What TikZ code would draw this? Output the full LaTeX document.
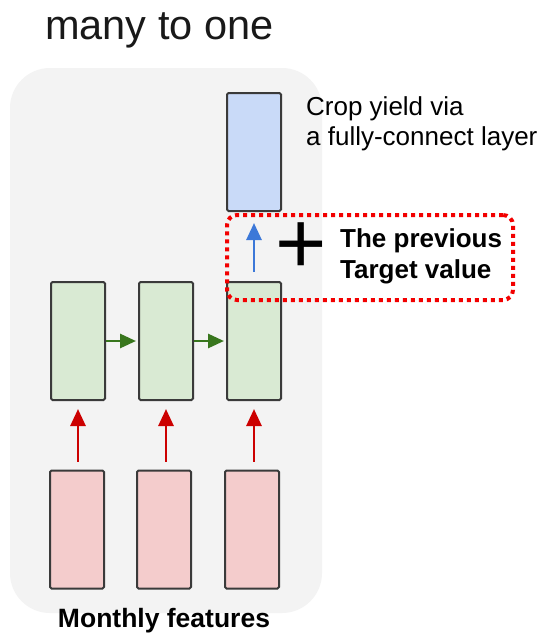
\documentclass[tikz,border=0pt]{standalone}
\usepackage{fontspec}
\setmainfont{Liberation Sans}
\usetikzlibrary{arrows.meta}
\definecolor{panelgray}{HTML}{F3F3F3}
\definecolor{boxline}{HTML}{3A3A3A}
\definecolor{greenfill}{HTML}{D9EAD3}
\definecolor{bluefill}{HTML}{C9DAF8}
\definecolor{pinkfill}{HTML}{F4CCCC}
\definecolor{greenarrow}{HTML}{38761D}
\definecolor{redarrow}{HTML}{CC0000}
\definecolor{bluearrow}{HTML}{3C78D8}
\definecolor{dotred}{HTML}{F20000}
\begin{document}
\begin{tikzpicture}[x=1pt, y=-1pt,
  cell/.style={draw=boxline, line width=2pt, rounded corners=1.5pt,
    minimum width=54pt, minimum height=118pt, inner sep=0pt},
  hidden/.style={cell, fill=greenfill},
  outcell/.style={cell, fill=bluefill},
  incell/.style={cell, fill=pinkfill},
  inarrow/.style={draw=redarrow, line width=2.8pt,
    -{Triangle[length=17pt, width=15pt]}, shorten <=8pt, shorten >=8pt},
  recarrow/.style={draw=greenarrow, line width=2.8pt,
    -{Triangle[length=16pt, width=14pt]}, shorten <=0pt, shorten >=2pt},
  outarrow/.style={draw=bluearrow, line width=2.8pt,
    -{Triangle[length=17pt, width=15pt]}, shorten <=9pt, shorten >=11pt},
  dotbox/.style={draw=dotred, line width=4pt, dash pattern=on 4pt off 4pt,
    rounded corners=10pt, minimum width=286pt, minimum height=85pt, inner sep=0pt},
  txt/.style={inner sep=0pt, anchor=base west, align=left}
]
\useasboundingbox[fill=white] (0,0) rectangle (547,633);

% grey panel behind the network
\fill[panelgray, rounded corners=40pt] (10,68) rectangle (322,613);

% title
\node[txt, font=\fontsize{41.5}{48}\selectfont, text=black!90] (title) at (45,39) {many to one};

% cells
\node[outcell] (out) at (254,152) {};
\node[hidden] (h1) at (78,341) {};
\node[hidden] (h2) at (166,341) {};
\node[hidden] (h3) at (254,341) {};
\node[incell] (x1) at (77,529.5) {};
\node[incell] (x2) at (164,529.5) {};
\node[incell] (x3) at (252,529.5) {};

% connectors
\draw[inarrow] (x1.north -| h1) -- (h1);
\draw[inarrow] (x2.north -| h2) -- (h2);
\draw[inarrow] (x3.north -| h3) -- (h3);
\draw[recarrow] (h1) -- (h2);
\draw[recarrow] (h2) -- (h3);
\draw[outarrow] (h3) -- (out);

% highlighted extra input (base anchor sits on the last line)
\node[dotbox] (extra) at (370,257.5) {};
\node[inner sep=0pt, font=\fontsize{88}{88}\selectfont] (plus) at (301,248) {+};
\node[txt, font=\bfseries\fontsize{26}{31}\selectfont] (prev) at (340,278)
  {The previous\\Target value};

% labels
\node[txt, font=\fontsize{26}{30}\selectfont] (outlabel) at (306,145)
  {Crop yield via\\a fully-connect layer};
\node[inner sep=0pt, anchor=base, font=\bfseries\fontsize{26.5}{30}\selectfont] (inlabel)
  at (164,627) {Monthly features};
\end{tikzpicture}
\end{document}
